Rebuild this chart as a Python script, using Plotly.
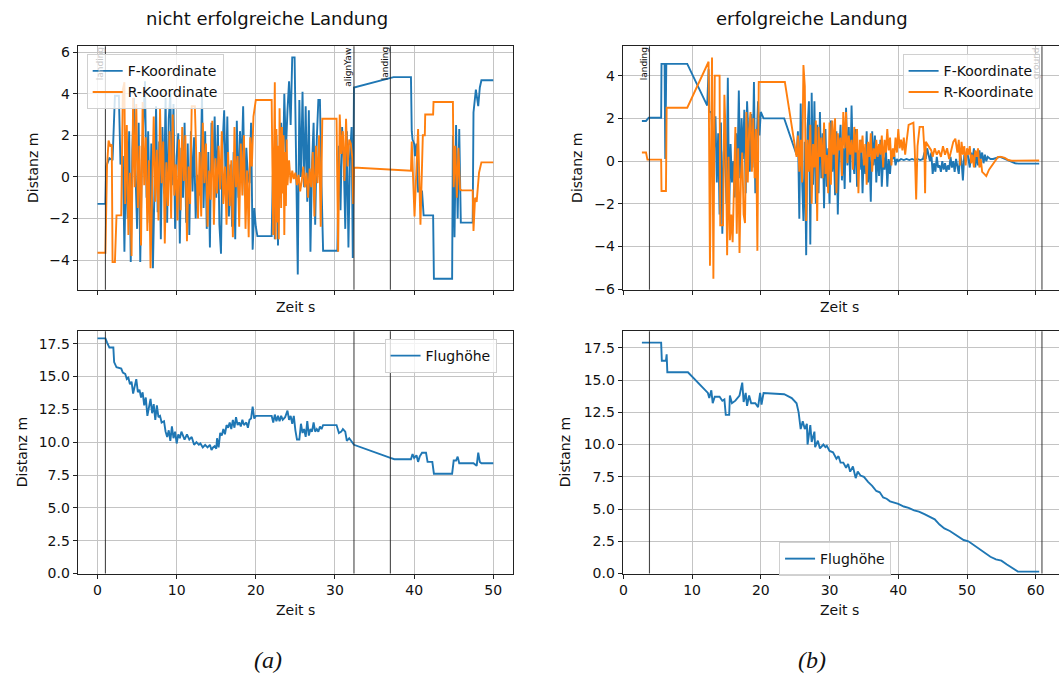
import plotly.graph_objects as go

# ---------------- data ----------------
# (a) nicht erfolgreiche Landung : (Zeit s, Distanz m)
a_F = [(0, -1.3), (1.0, -1.3), (1.1, 0.5), (1.5, 0.9), (1.9, 0.8), (2.2, 3.9), (2.7, 3.9), (2.9, 0.6),
       (3.2, 1.0), (3.4, -3.6), (3.6, 1.1), (3.8, -2.0), (4.0, 2.2), (4.2, -4.1), (4.4, 1.3), (4.6, 3.8),
       (4.8, 0.2), (5.0, -2.5), (5.2, 2.6), (5.4, -4.1), (5.6, 0.8), (5.8, 3.0), (6.0, 4.6), (6.2, -1.0),
       (6.4, 2.2), (6.6, -2.2), (6.8, 1.6), (7.0, -4.4), (7.2, 0.3), (7.4, 3.4), (7.6, -1.7), (7.8, 1.7),
       (8.0, -3.0), (8.2, 2.4), (8.4, -0.8), (8.6, 3.8), (8.8, -2.2), (9.0, 2.8), (9.2, 4.0), (9.4, -0.4),
       (9.6, 3.5), (9.8, -2.5), (10.0, 1.0), (10.2, 2.1), (10.4, -3.2), (10.6, 1.4), (10.8, -1.0),
       (11.0, 2.6), (11.2, -2.2), (11.4, 1.6), (11.6, -2.8), (11.8, 2.2), (12.0, -0.7), (12.2, 1.9),
       (12.4, -2.0), (12.6, 0.1), (12.8, -0.9), (13.0, -0.5), (13.2, 4.0), (13.4, -1.5), (13.6, 2.2),
       (13.8, -2.5), (14.0, 1.2), (14.2, -3.4), (14.4, 2.6), (14.6, 0.3), (14.8, 2.9), (15.0, -1.0),
       (15.2, 2.5), (15.4, -2.3), (15.6, -3.7), (15.8, 1.5), (16.0, 3.2), (16.2, -0.7), (16.4, 2.9),
       (16.6, -1.9), (16.8, 0.6), (17.0, -2.4), (17.2, 1.2), (17.4, -3.0), (17.6, 2.7), (17.8, -1.0),
       (18.0, 2.2), (18.2, 0.5), (18.4, 3.4), (18.6, -0.9), (18.8, 1.4), (19.0, 0.0), (19.2, -0.3),
       (19.4, 2.6), (19.6, -3.5), (19.8, -1.5), (20.0, -2.4), (20.2, -2.85), (22.0, -2.85), (22.2, 0.9),
       (22.4, -3.0), (22.6, 2.0), (22.8, -3.3), (23.0, 0.8), (23.2, 2.6), (23.4, -0.3), (23.6, 4.0),
       (23.8, 1.2), (24.0, 3.2), (24.2, 4.6), (24.4, 2.5), (24.6, 5.75), (24.9, 5.75), (25.1, 1.0),
       (25.3, -4.7), (25.5, 3.7), (25.7, 0.0), (25.9, 4.1), (26.1, -0.5), (26.3, 3.4), (26.5, -1.2),
       (26.7, 3.2), (26.9, -3.6), (27.1, 0.6), (27.3, 2.6), (27.5, -2.3), (27.7, 1.8), (27.9, 3.7),
       (28.1, 3.7), (28.3, -0.4), (28.5, -3.55), (30.3, -3.55), (30.5, 1.5), (30.7, -1.6), (30.9, 2.4),
       (31.1, 0.9), (31.3, -2.5), (31.5, 2.2), (31.7, -3.4), (31.9, 1.0), (32.1, 2.4), (32.25, -3.9),
       (32.35, 2.6), (32.4, 4.3), (37.4, 4.8), (39.6, 4.8), (39.7, 2.2), (39.8, 1.8), (40.0, 1.6),
       (40.1, 1.0), (40.3, 1.6), (40.5, -0.7), (41.0, -0.7), (41.2, -1.85), (42.4, -1.85), (42.5, -4.9),
       (44.8, -4.9), (44.9, 2.0), (45.1, -2.9), (45.3, 2.5), (45.5, -2.0), (45.7, 2.3), (45.9, -2.2),
       (47.4, -2.2), (47.5, 3.1), (47.8, 4.2), (48.1, 3.4), (48.3, 4.3), (48.5, 4.65), (50.0, 4.65)]

a_R = [(0, -3.65), (1.0, -3.65), (1.2, 0.5), (1.4, 1.75), (1.6, 1.5), (1.8, 1.55), (1.9, -4.1),
       (2.2, -4.1), (2.4, -1.85), (3.0, -1.85), (3.2, 4.2), (3.4, 4.55), (3.5, -1.3), (3.7, 2.5),
       (3.9, -2.8), (4.1, 0.2), (4.3, -3.8), (4.5, 3.8), (4.7, -0.5), (4.9, 3.5), (5.1, -1.5), (5.3, 1.5),
       (5.5, -3.3), (5.7, 3.6), (5.9, -0.4), (6.1, 1.9), (6.3, -2.6), (6.5, 0.8), (6.7, -4.4), (6.9, -0.6),
       (7.1, 2.9), (7.3, -1.2), (7.5, 1.3), (7.7, -2.1), (7.9, 3.3), (8.1, -0.3), (8.3, 1.7), (8.5, -3.2),
       (8.7, 0.7), (8.9, -1.4), (9.1, 2.2), (9.3, -2.0), (9.5, 3.0), (9.7, -0.9), (9.9, 0.6), (10.1, -2.1),
       (10.3, 1.8), (10.5, -1.6), (10.7, 2.4), (10.9, -0.2), (11.1, 2.0), (11.3, -3.1), (11.5, 0.5),
       (11.7, -1.3), (11.9, 3.4), (12.3, 3.4), (12.5, 0.2), (12.7, -2.0), (12.9, 1.2), (13.1, -1.9),
       (13.3, 2.6), (13.5, -0.3), (13.7, 1.6), (13.9, -2.4), (14.1, 0.3), (14.3, -1.1), (14.5, 2.7),
       (14.7, -2.3), (14.9, 0.9), (15.1, -0.8), (15.3, 1.5), (15.5, -0.6), (15.7, 2.2), (15.9, -1.3),
       (16.1, 0.5), (16.3, -2.3), (16.5, 1.2), (16.7, -1.4), (16.9, 0.8), (17.1, -2.9), (17.3, 2.4),
       (17.5, -0.5), (17.7, 1.0), (17.9, -2.4), (18.1, 1.6), (18.3, -0.9), (18.5, 2.0), (18.7, -2.5),
       (18.9, 0.3), (19.1, -2.9), (19.3, 1.9), (19.5, 0.5), (19.7, 2.9), (20.0, 3.7), (22.0, 3.7),
       (22.2, -2.8), (22.4, 4.55), (22.5, -3.0), (22.6, 2.3), (22.7, -2.2), (22.8, 1.5), (22.9, -3.0),
       (23.0, 3.3), (23.1, 0.3), (23.2, -1.5), (23.3, 2.4), (23.4, -0.8), (23.5, 2.0), (23.6, -2.8),
       (23.7, 1.2), (23.8, -1.4), (23.9, 1.8), (24.0, -0.4), (24.2, 0.8), (24.4, -0.3), (24.6, 0.3),
       (24.8, -0.1), (25.0, 0.2), (25.2, -0.4), (25.4, 0.1), (25.6, -0.7), (25.8, -0.2), (26.0, 0.5),
       (26.2, -0.5), (26.4, 0.2), (26.6, -1.0), (26.8, 0.4), (27.0, -0.5), (27.2, 1.2), (27.4, -1.9),
       (27.6, 1.5), (27.8, -0.3), (28.0, 2.0), (28.2, -2.4), (28.4, 2.8), (30.2, 2.8), (30.4, -3.6),
       (30.6, 3.0), (30.8, 1.1), (31.0, 2.2), (31.2, -0.2), (31.4, 2.8), (31.6, 0.5), (31.8, 1.8),
       (32.0, 1.6), (32.2, 0.9), (32.3, -1.3), (32.4, 0.45), (39.6, 0.3), (39.7, 1.7), (40.05, -1.9),
       (40.5, 2.3), (40.8, -2.3), (41.1, 2.0), (41.35, 2.0), (41.4, 3.0), (42.4, 3.0), (42.45, 3.6),
       (44.9, 3.6), (45.0, -0.5), (45.2, 1.5), (45.4, -1.0), (45.6, 1.4), (45.8, -0.6), (46.0, -0.65),
       (47.4, -0.65), (47.5, -2.6), (47.7, -1.0), (47.9, -1.2), (48.2, 0.2), (48.5, 0.7), (50.0, 0.7)]

a_H = [(0, 17.9), (1.0, 17.9), (1.2, 17.6), (1.5, 17.2), (2.0, 17.2), (2.1, 16.1), (2.4, 15.7),
       (3.0, 15.6), (3.2, 15.3), (3.5, 15.2), (3.7, 14.8), (3.9, 14.9), (4.1, 14.4), (4.3, 14.6),
       (4.5, 13.7), (4.7, 14.3), (4.9, 14.8), (5.1, 13.8), (5.3, 14.0), (5.5, 13.4), (5.7, 13.8),
       (5.9, 12.8), (6.1, 13.4), (6.3, 12.0), (6.5, 12.6), (6.7, 13.3), (6.9, 12.2), (7.1, 12.9),
       (7.3, 11.7), (7.5, 12.8), (7.7, 11.9), (7.9, 12.0), (8.1, 11.5), (8.4, 11.6), (8.6, 10.8),
       (8.8, 10.4), (9.0, 10.9), (9.2, 10.1), (9.4, 11.2), (9.6, 10.3), (9.8, 10.8), (10.0, 9.9),
       (10.2, 10.6), (10.4, 10.3), (10.6, 10.8), (10.8, 10.4), (11.0, 10.2), (11.3, 10.6), (11.6, 10.2),
       (11.9, 10.4), (12.2, 9.8), (12.5, 10.0), (12.8, 9.8), (13.0, 9.9), (13.3, 9.6), (13.6, 9.8),
       (13.9, 9.6), (14.2, 9.8), (14.4, 9.4), (14.6, 9.6), (14.8, 9.7), (15.0, 9.5), (15.1, 10.3),
       (15.3, 9.6), (15.5, 10.7), (15.7, 10.5), (15.9, 11.0), (16.1, 10.6), (16.3, 11.3), (16.5, 11.1),
       (16.7, 11.5), (16.9, 11.0), (17.1, 11.7), (17.3, 11.1), (17.5, 11.9), (17.7, 11.3), (17.9, 11.5),
       (18.1, 11.2), (18.3, 11.7), (18.5, 11.3), (18.8, 11.5), (19.0, 11.1), (19.2, 11.7), (19.4, 11.8),
       (19.6, 12.7), (19.8, 11.8), (20.0, 12.0), (22.0, 12.0), (22.2, 11.5), (22.4, 12.1), (22.6, 11.6),
       (22.8, 12.0), (23.0, 11.6), (23.2, 12.0), (23.4, 11.7), (23.7, 11.9), (24.0, 12.4), (24.2, 11.7),
       (24.4, 12.0), (24.6, 11.4), (24.8, 12.0), (25.0, 10.9), (25.2, 10.2), (25.5, 10.2), (25.7, 11.4),
       (25.9, 10.7), (26.1, 11.0), (26.3, 10.4), (26.5, 11.6), (26.7, 10.5), (26.9, 11.0), (27.1, 10.8),
       (27.3, 11.5), (27.5, 10.8), (27.7, 11.0), (27.9, 10.8), (28.1, 11.2), (28.3, 11.0), (28.5, 11.3),
       (30.2, 11.3), (30.5, 10.7), (30.8, 10.8), (31.0, 11.0), (31.3, 10.8), (31.5, 10.1), (31.8, 10.3),
       (32.1, 10.0), (32.4, 9.8), (37.0, 8.8), (37.5, 8.7), (39.6, 8.7), (39.8, 9.1), (40.0, 8.8),
       (40.3, 9.0), (40.5, 8.5), (40.7, 8.9), (41.0, 9.2), (41.5, 9.2), (41.7, 8.5), (42.3, 8.5),
       (42.5, 7.6), (44.8, 7.6), (45.0, 8.6), (45.3, 8.6), (45.5, 8.9), (45.7, 8.4), (47.5, 8.4),
       (47.9, 8.2), (48.1, 9.2), (48.3, 8.5), (48.5, 8.4), (50.0, 8.4)]

a_events = [(1.0, "landing"), (32.4, "alignYaw"), (37.0, "landing")]

# (b) erfolgreiche Landung
b_F = [(2.7, 1.88), (3.3, 1.88), (3.7, 2.03), (5.5, 2.03), (5.55, 4.55), (6.0, 4.55), (6.1, 0.1),
       (6.25, 4.55), (9.3, 4.55), (12.2, 2.6), (12.4, 4.3), (12.5, 2.3), (12.8, 2.3), (13.0, 0.8),
       (13.2, 0.6), (13.4, 2.1), (13.6, -1.0), (13.8, 1.3), (14.0, -2.5), (14.2, 1.8), (14.4, -3.4),
       (14.6, 0.4), (14.8, 1.1), (15.0, -2.0), (15.2, 3.9), (15.4, -2.3), (15.6, 0.8), (15.8, -1.0),
       (16.0, 0.0), (16.2, -1.7), (16.4, 1.3), (16.6, -0.5), (16.8, 3.3), (17.0, -0.8), (17.2, 2.0),
       (17.4, 0.1), (17.6, 2.4), (17.8, -1.5), (18.0, 2.8), (18.2, 1.3), (18.4, -0.5), (18.6, 2.2),
       (18.8, -0.3), (19.0, 3.7), (19.2, -1.5), (19.4, 1.0), (19.6, 2.8), (19.8, 1.2), (20.0, 2.3),
       (20.4, 2.0), (23.4, 2.0), (25.2, 0.3), (25.4, 1.4), (25.6, -2.7), (25.8, 2.7), (26.0, -0.8),
       (26.2, -2.8), (26.4, 0.9), (26.6, -4.4), (26.8, 1.5), (27.0, 2.8), (27.2, -3.9), (27.4, 3.2),
       (27.6, -1.1), (27.8, 2.8), (28.0, -2.0), (28.2, 1.7), (28.4, -1.5), (28.6, 2.3), (28.8, -0.8),
       (29.0, 1.3), (29.2, -2.2), (29.4, 1.5), (29.6, -1.2), (29.8, 0.6), (30.0, -2.0), (30.2, 1.9),
       (30.4, -0.5), (30.6, 0.9), (30.8, -1.6), (31.0, 1.4), (31.2, -2.5), (31.4, 0.5), (31.6, 1.7),
       (31.8, -0.9), (32.0, 0.6), (32.2, -1.3), (32.4, 2.5), (32.6, -0.2), (32.8, 1.6), (33.0, -1.0),
       (33.2, 2.6), (33.4, 0.1), (33.6, -0.6), (33.8, 1.5), (34.0, -1.2), (34.2, 0.5), (34.4, -0.4),
       (34.6, 1.0), (34.8, -1.5), (35.0, 0.5), (35.2, -0.6), (35.4, 1.4), (35.6, -1.0), (35.8, 0.3),
       (36.0, -1.9), (36.2, 1.4), (36.4, -0.2), (36.6, 1.2), (36.8, -1.0), (37.0, 0.4), (37.2, -0.7),
       (37.4, 1.0), (37.6, -1.2), (37.8, 0.2), (38.0, -0.4), (38.2, 0.6), (38.4, -1.2), (38.6, 0.1),
       (38.8, -0.6), (39.0, 0.4), (39.2, 0.1), (39.4, 0.3), (39.6, -0.2), (39.8, 0.1), (40.0, 0.0),
       (40.4, 0.1), (40.8, 0.05), (41.2, 0.1), (41.6, 0.05), (42.0, 0.1), (42.4, 0.05), (42.8, 0.1),
       (43.2, 0.05), (43.6, 0.1), (43.8, 0.4), (44.0, 0.1), (44.2, 0.6), (44.4, 0.3), (44.6, 0.0),
       (44.8, 0.4), (45.0, -0.6), (45.2, -0.1), (45.4, -0.5), (45.6, 0.2), (45.8, -0.3), (46.0, -0.2),
       (46.2, -0.5), (46.4, 0.0), (46.6, -0.4), (46.8, -0.1), (47.0, -0.5), (47.2, -0.2), (47.4, -0.4),
       (47.6, 0.2), (47.8, -0.3), (48.0, 0.0), (48.2, -0.5), (48.4, 0.1), (48.6, -0.2), (48.8, -0.6),
       (49.0, 0.3), (49.2, 0.0), (49.4, -0.9), (49.6, 0.3), (49.8, 0.0), (50.0, 0.5), (50.2, 0.1),
       (50.4, -0.3), (50.6, 0.4), (50.8, 0.0), (51.0, 0.6), (51.2, -0.3), (51.4, 0.3), (51.6, -0.2),
       (51.8, 0.5), (52.0, 0.1), (52.2, 0.4), (52.4, -0.1), (52.6, 0.3), (52.8, 0.0), (53.0, 0.2),
       (53.4, 0.1), (53.8, 0.1), (54.2, 0.15), (54.8, 0.2), (55.5, 0.1), (56.2, 0.0), (57.0, -0.1),
       (57.5, -0.12), (60.5, -0.12)]

b_R = [(2.7, 0.4), (3.3, 0.4), (3.5, 0.07), (5.5, 0.07), (5.55, -1.4), (6.2, -1.4), (6.3, 2.5),
       (9.3, 2.5), (12.4, 4.65), (12.6, -4.9), (12.9, 4.85), (13.1, -5.5), (13.3, 4.0), (14.0, 4.0),
       (14.1, -3.0), (14.5, -3.0), (14.7, 3.1), (14.9, 1.0), (15.1, -4.4), (15.3, 0.2), (15.5, -3.7),
       (15.7, -2.5), (15.9, -3.8), (16.1, -1.5), (16.3, 1.6), (16.5, -3.4), (16.7, 0.6), (16.9, -4.3),
       (17.1, -0.8), (17.3, 0.4), (17.5, -2.5), (17.7, -2.9), (17.9, 2.3), (18.1, -1.0), (18.3, 1.5),
       (18.5, 2.3), (18.7, -0.5), (18.9, 2.0), (19.1, -0.8), (19.3, 1.5), (19.5, -4.2), (19.7, 3.7),
       (23.5, 3.7), (25.2, 0.2), (25.4, 1.2), (25.6, -0.5), (25.8, 1.0), (26.0, -1.0), (26.2, 4.5),
       (26.4, 3.5), (26.6, -2.8), (26.8, 1.0), (27.0, -0.5), (27.2, 1.7), (27.4, -2.0), (27.6, 0.8),
       (27.8, -0.3), (28.0, 1.9), (28.2, -2.8), (28.4, 1.6), (28.6, 0.2), (28.8, 1.1), (29.0, -0.8),
       (29.2, 1.8), (29.4, -0.6), (29.6, 0.3), (29.8, -1.5), (30.0, 1.8), (30.2, -1.1), (30.4, 1.9),
       (30.6, 0.3), (30.8, 2.0), (31.0, -1.5), (31.2, 1.3), (31.4, 0.5), (31.6, 1.1), (31.8, -0.7),
       (32.0, 2.3), (32.2, 0.6), (32.4, 2.3), (32.6, -0.1), (32.8, 1.2), (33.0, 0.3), (33.2, 1.0),
       (33.4, -0.4), (33.6, 1.6), (33.8, 0.4), (34.0, 1.5), (34.2, -1.5), (34.4, 1.0), (34.6, 0.4),
       (34.8, 1.2), (35.0, -0.2), (35.2, 0.8), (35.4, -1.1), (35.6, 0.9), (35.8, 0.2), (36.0, 1.3),
       (36.2, -0.5), (36.4, 0.6), (36.6, 0.1), (36.8, 1.0), (37.0, 0.2), (37.2, 0.8), (37.4, 0.3),
       (37.6, 1.2), (37.8, -0.3), (38.0, 1.0), (38.2, 0.4), (38.4, 1.5), (38.6, 0.5), (38.8, 1.1),
       (39.0, -0.2), (39.2, 0.6), (39.4, 0.2), (39.6, 1.1), (39.8, 0.4), (40.0, 1.5), (40.2, 0.6),
       (40.4, 1.0), (40.6, 0.5), (40.8, 1.1), (41.0, 0.3), (41.2, 0.9), (41.5, 1.7), (42.2, 1.8),
       (42.4, 0.5), (42.6, -1.8), (42.8, 0.7), (43.1, 1.6), (43.6, 1.6), (43.8, 0.5), (43.9, -1.5),
       (44.0, 0.9), (44.4, 0.7), (44.8, 0.5), (45.0, 0.2), (45.3, 0.6), (45.6, 0.3), (45.9, 0.5),
       (46.2, 0.2), (46.5, 0.7), (46.8, 0.3), (47.1, 0.6), (47.4, 0.1), (47.7, 0.5), (48.0, 0.9),
       (48.3, 1.05), (48.6, 0.4), (48.8, 1.0), (49.0, -0.2), (49.2, 0.9), (49.4, 0.3), (49.6, 0.7),
       (49.8, -0.2), (50.0, 0.6), (50.2, 0.3), (50.4, 0.7), (50.6, -0.1), (50.8, 0.3), (51.0, -0.3),
       (51.2, 0.5), (51.4, 0.2), (51.6, 0.6), (51.8, -0.3), (52.0, 0.1), (52.2, -0.5), (52.5, -0.6),
       (52.8, -0.7), (53.2, -0.4), (53.6, -0.2), (54.0, 0.0), (54.5, 0.2), (55.0, 0.2), (55.5, 0.15),
       (56.0, 0.05), (56.5, 0.02), (60.5, 0.03)]

b_H = [(2.7, 17.9), (5.5, 17.9), (5.6, 16.5), (6.2, 16.5), (6.3, 17.0), (6.4, 15.6), (9.4, 15.6),
       (10.5, 15.0), (11.5, 14.4), (12.3, 14.0), (12.5, 13.6), (12.8, 14.2), (13.0, 13.2), (13.3, 13.7),
       (14.0, 13.7), (14.4, 13.4), (14.7, 13.5), (14.9, 12.3), (15.4, 12.3), (15.5, 13.8), (15.8, 13.2),
       (16.3, 13.4), (16.9, 13.8), (17.3, 14.8), (17.5, 13.3), (17.8, 14.0), (18.0, 13.0), (18.3, 13.8),
       (18.6, 13.2), (19.2, 13.2), (19.6, 12.9), (19.9, 14.0), (20.1, 13.1), (20.4, 14.0), (23.4, 13.9),
       (24.5, 13.6), (25.2, 13.2), (25.5, 12.5), (25.8, 11.2), (26.1, 11.8), (26.4, 11.2), (26.7, 11.6),
       (26.8, 10.0), (27.2, 11.5), (27.4, 10.2), (27.8, 11.0), (27.9, 9.8), (28.3, 10.3), (28.6, 9.7),
       (29.1, 10.0), (29.4, 9.8), (29.6, 9.9), (30.0, 9.5), (30.5, 9.4), (31.0, 8.9), (31.3, 9.1),
       (31.6, 8.6), (32.0, 8.6), (32.4, 8.2), (32.7, 8.5), (33.0, 7.9), (33.4, 8.3), (33.8, 7.4),
       (34.1, 7.9), (34.5, 7.6), (35.0, 7.5), (35.6, 7.1), (36.2, 6.8), (36.8, 6.4), (37.3, 6.3),
       (37.8, 5.9), (38.3, 5.8), (38.8, 5.6), (39.4, 5.5), (40.0, 5.4), (40.8, 5.2), (41.5, 5.1),
       (42.3, 4.9), (43.0, 4.8), (43.8, 4.6), (44.6, 4.4), (45.3, 4.2), (46.0, 3.8), (46.7, 3.5),
       (47.5, 3.3), (48.3, 3.0), (49.0, 2.8), (49.5, 2.6), (50.2, 2.5), (51.0, 2.2), (51.8, 1.9),
       (52.6, 1.6), (53.4, 1.3), (54.2, 1.1), (55.0, 1.0), (55.8, 0.7), (56.6, 0.45), (57.4, 0.15),
       (60.5, 0.15)]

b_events = [(3.8, "landing"), (60.9, "ground")]

x_ticks_a = [0, 10, 20, 30, 40, 50]
x_ticks_b = [0, 10, 20, 30, 40, 50, 60]

# ---------------- styling ----------------
W, H = 1059, 688
BLUE, ORANGE = "#1f77b4", "#ff7f0e"
FONT = "DejaVu Sans"
GRID = "#c4c4c4"


def px_x(p):
    return p / W


def px_y(p):
    return 1 - p / H


def xs(pairs):
    return [p[0] for p in pairs]


def ys(pairs):
    return [p[1] for p in pairs]


fig = go.Figure()

traces = [
    (a_F, "F-Koordinate", BLUE, "x", "y", "legend"),
    (a_R, "R-Koordinate", ORANGE, "x", "y", "legend"),
    (a_H, "Flughöhe", BLUE, "x2", "y2", "legend2"),
    (b_F, "F-Koordinate", BLUE, "x3", "y3", "legend3"),
    (b_R, "R-Koordinate", ORANGE, "x3", "y3", "legend3"),
    (b_H, "Flughöhe", BLUE, "x4", "y4", "legend4"),
]
for data, name, col, xa, ya, lg in traces:
    fig.add_trace(go.Scatter(x=xs(data), y=ys(data), mode="lines", name=name,
                             line=dict(color=col, width=1.9), xaxis=xa, yaxis=ya,
                             legend=lg, showlegend=True, hoverinfo="skip"))

left_dom = [px_x(74), px_x(511)]
right_dom = [px_x(621), 1.0]
top_dom = [px_y(292), px_y(45)]
bot_dom = [px_y(580), px_y(334)]

axis_common = dict(showgrid=True, gridcolor=GRID, gridwidth=1.1, zeroline=False,
                   showline=True, linecolor="#222", linewidth=1.1,
                   ticks="outside", ticklen=4, tickwidth=1, tickcolor="#222",
                   tickfont=dict(family=FONT, size=14, color="#111"))

fig.update_layout(
    xaxis=dict(domain=left_dom, anchor="y", range=[-2.5, 52.5], tickvals=x_ticks_a,
               showticklabels=False, mirror=True, **axis_common),
    yaxis=dict(domain=top_dom, anchor="x", range=[-5.43, 6.28], dtick=2, tick0=0,
               mirror=True, **axis_common),
    xaxis2=dict(domain=left_dom, anchor="y2", range=[-2.5, 52.5], tickvals=x_ticks_a,
                mirror=True, **axis_common),
    yaxis2=dict(domain=bot_dom, anchor="x2", range=[0, 18.45], dtick=2.5, tick0=0,
                tickformat=".1f", mirror=True, **axis_common),
    xaxis3=dict(domain=right_dom, anchor="y3", range=[-0.1, 63.38], tickvals=x_ticks_b,
                showticklabels=False, mirror=True, **axis_common),
    yaxis3=dict(domain=top_dom, anchor="x3", range=[-6.02, 5.37], dtick=2, tick0=0,
                mirror=False, **axis_common),
    xaxis4=dict(domain=right_dom, anchor="y4", range=[-0.1, 63.38], tickvals=x_ticks_b,
                mirror=True, **axis_common),
    yaxis4=dict(domain=bot_dom, anchor="x4", range=[0, 18.79], dtick=2.5, tick0=0,
                tickformat=".1f", mirror=False, **axis_common),
)

leg_common = dict(bgcolor="rgba(255,255,255,0.8)", bordercolor="#d0d0d0", borderwidth=1,
                  font=dict(family=FONT, size=14, color="#111"), xanchor="left", yanchor="top",
                  tracegroupgap=0)
fig.update_layout(
    legend=dict(x=px_x(83), y=px_y(53), **leg_common),
    legend2=dict(x=px_x(382), y=px_y(342), **leg_common),
    legend3=dict(x=px_x(902), y=px_y(53), **leg_common),
    legend4=dict(x=px_x(778), y=px_y(548), **leg_common),
)

shapes = []
annotations = []
# event lines with labels
for events, xr_top, xr_bot, labcols in [
    (a_events, "x", "x2", ["#c8c8c8", "#111", "#111"]),
    (b_events, "x3", "x4", ["#111", "#c8c8c8"]),
]:
    for (t, lab), lc in zip(events, labcols):
        for xr in (xr_top, xr_bot):
            shapes.append(dict(type="line", xref=xr, yref=xr.replace("x", "y") + " domain",
                               x0=t, x1=t, y0=0, y1=1,
                               line=dict(color="rgba(40,40,40,0.85)", width=1.1)))
        annotations.append(dict(text=lab, xref=xr_top, yref="paper", x=t, y=px_y(45),
                                xanchor="right", yanchor="top", textangle=-90, showarrow=False,
                                font=dict(family=FONT, size=9, color=lc), xshift=0,
                                borderpad=0))

lab_font = dict(family=FONT, size=14, color="#111")


def ann(text, x, y, angle=0, font=lab_font):
    annotations.append(dict(text=text, xref="paper", yref="paper", x=px_x(x), y=px_y(y),
                            xanchor="center", yanchor="middle", showarrow=False,
                            textangle=angle, font=font))


ann("Zeit s", 293, 309)
ann("Zeit s", 293, 617)
ann("Zeit s", 839, 309)
ann("Zeit s", 839, 617)
ann("Distanz m", 28.5, 168, -90)
ann("Distanz m", 18, 457, -90)
ann("Distanz m", 574.5, 168, -90)
ann("Distanz m", 563, 457, -90)
title_font = dict(family=FONT, size=18, color="#111")
ann("nicht erfolgreiche Landung", 264, 17, font=title_font)
ann("erfolgreiche Landung", 811, 17, font=title_font)
cap_font = dict(family="Liberation Serif", size=24, color="#111")
ann("<i>(a)</i>", 265, 668, font=cap_font)
ann("<i>(b)</i>", 811, 668, font=cap_font)

fig.update_layout(shapes=shapes, annotations=annotations, hovermode=False,
                  width=W, height=H, margin=dict(l=0, r=0, t=0, b=0),
                  paper_bgcolor="white", plot_bgcolor="white",
                  font=dict(family=FONT, size=14, color="#111"))

fig.write_html("out.html", config={"displayModeBar": False},
               post_script="document.body.style.margin='0';document.body.style.padding='0';")
